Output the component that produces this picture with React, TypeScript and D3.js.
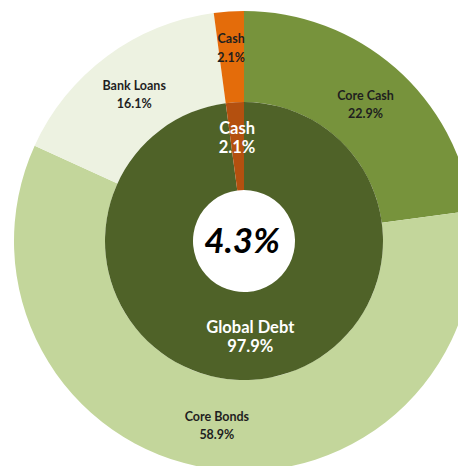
import React from "react";
import * as d3 from "d3";

const outerLabels = ["Core Cash", "Core Bonds", "Bank Loans", "Cash"];
const outerValues = [22.9, 58.9, 16.1, 2.1];
const outerColors = ["#77933c", "#c3d69b", "#edf2e1", "#e46c0a"];
const outerLabelShift = [0, 0, 0, 11];

const innerLabels = ["Global Debt", "Cash"];
const innerValues = [97.9, 2.1];
const innerColors = ["#4f6228", "#b4500f"];
const innerLabelShift = [0, 10];

const centerText = "4.3%";

const W = 458;
const H = 466;
const cx = 244;
const cy = 241;
const rHole = 51;
const rMid = 139;
const rOuter = 230;

export default function App() {
  const pie = d3.pie<number>().sort(null).value((d) => d);
  const outerArcs = pie(outerValues);
  const innerArcs = pie(innerValues);
  const outerArc = d3.arc<d3.PieArcDatum<number>>().innerRadius(rMid).outerRadius(rOuter);
  const innerArc = d3.arc<d3.PieArcDatum<number>>().innerRadius(rHole).outerRadius(rMid);

  const labelPos = (a: d3.PieArcDatum<number>, r: number) => {
    const m = (a.startAngle + a.endAngle) / 2;
    return [Math.sin(m) * r, -Math.cos(m) * r];
  };

  const font = "Lato, 'Open Sans', sans-serif";

  return (
    <svg
      width={W}
      height={H}
      style={{ position: "absolute", left: 0, top: 0, background: "#fff" }}
    >
      <g transform={`translate(${cx},${cy})`}>
        {outerArcs.map((a, i) => (
          <path key={"o" + i} d={outerArc(a) || ""} fill={outerColors[i]} />
        ))}
        {innerArcs.map((a, i) => (
          <path key={"i" + i} d={innerArc(a) || ""} fill={innerColors[i]} />
        ))}
        {outerArcs.map((a, i) => {
          const [x, y] = labelPos(a, (rMid + rOuter) / 2 + outerLabelShift[i]);
          return (
            <text
              key={"ot" + i}
              x={x}
              y={y}
              textAnchor="middle"
              fontFamily={font}
              fontWeight="bold"
              fontSize={12.5}
              fill="#1f1f1f"
            >
              <tspan x={x} dy="-0.2em">{outerLabels[i]}</tspan>
              <tspan x={x} dy="1.45em">{outerValues[i].toFixed(1)}%</tspan>
            </text>
          );
        })}
        {innerArcs.map((a, i) => {
          const [x, y] = labelPos(a, (rHole + rMid) / 2 + innerLabelShift[i]);
          return (
            <text
              key={"it" + i}
              x={x}
              y={y}
              textAnchor="middle"
              fontFamily={font}
              fontWeight="bold"
              fontSize={16.5}
              fill="#ffffff"
            >
              <tspan x={x} dy="-0.15em">{innerLabels[i]}</tspan>
              <tspan x={x} dy="1.15em">{innerValues[i].toFixed(1)}%</tspan>
            </text>
          );
        })}
        <text
          x={-2}
          y={12}
          textAnchor="middle"
          fontFamily={font}
          fontWeight="bold"
          fontStyle="italic"
          fontSize={35}
          fill="#000"
        >
          {centerText}
        </text>
      </g>
    </svg>
  );
}
